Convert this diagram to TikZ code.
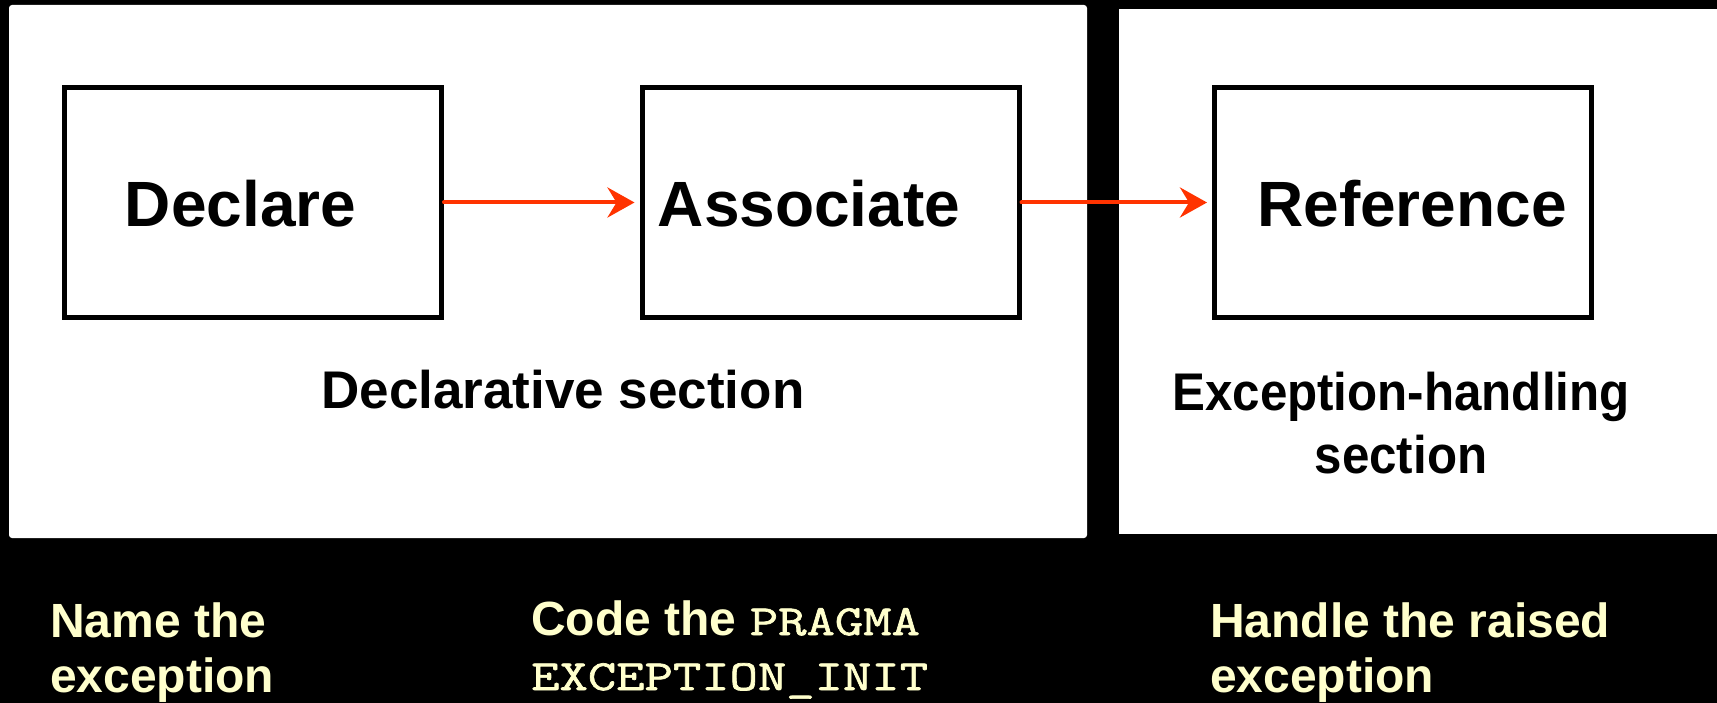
\documentclass[tikz,border=0pt]{standalone}
\usepackage{fontspec}
\setmainfont{Liberation Sans}
\newfontfamily\codefont[FakeStretch=1.28, FakeBold=1.6]{Latin Modern Mono}
\usetikzlibrary{arrows.meta}
\definecolor{flowred}{HTML}{FF3300}
\definecolor{notecream}{HTML}{FFFFCC}
\newcommand{\codeword}[1]{{\codefont\fontsize{43}{55}\selectfont #1}}

\begin{document}
\begin{tikzpicture}[x=1pt, y=-1pt,
  stepbox/.style={draw=black, line width=5pt, fill=white,
    minimum width=377pt, minimum height=230pt, inner sep=0pt},
  boxtext/.style={anchor=base, inner sep=0pt,
    font=\fontsize{64}{70}\selectfont\bfseries},
  sectiontext/.style={anchor=base, inner sep=0pt,
    font=\fontsize{53}{63}\selectfont\bfseries},
  notetext/.style={anchor=base west, inner sep=0pt, text=notecream,
    font=\fontsize{48}{55}\selectfont\bfseries},
  flow/.style={draw=flowred, line width=4pt, line cap=round,
    -{Stealth[length=27pt, width=30pt, inset=9pt]}, shorten >=5pt}
]
% page and background
\useasboundingbox (0,0) rectangle (1717,703);
\fill[black] (0,0) rectangle (1717,703);

% the two program sections
\fill[white, rounded corners=3pt] (9,5) rectangle (1087,538);
\fill[white] (1119,9) rectangle (1717,534);

% steps
\node[stepbox] (declare)   at (253,202.5)   {};
\node[stepbox] (associate) at (830.5,202.5) {};
\node[stepbox] (reference) at (1403,202.5)  {};

\node[boxtext] (declaretxt)   at (240.5,227) {Declare};
\node[boxtext] (associatetxt) at (809,227)   {Associate};
\node[boxtext] (referencetxt) at (1412,227)  {Reference};

% flow between steps
\draw[flow] (declare.east) -- (associate.west);
\draw[flow] (associate.east) -- (reference.west);

% section captions
\node[sectiontext] (declsec) at (563,409) {Declarative section};
\node[sectiontext] (excsec) at (1401,410)
  {\scalebox{0.93}[1]{\begin{tabular}[t]{@{}c@{}}Exception-handling\\section\end{tabular}}};

% notes under each step
\node[notetext] (note1) at (50,637)
  {\begin{tabular}[t]{@{}l@{}}Name the\\exception\end{tabular}};
\node[notetext] (note2) at (531,635)
  {\begin{tabular}[t]{@{}l@{}}Code the \codeword{PRAGMA}\\
   \codeword{EXCEPTION\_INIT}\end{tabular}};
\node[notetext] (note3) at (1210,637)
  {\begin{tabular}[t]{@{}l@{}}Handle the raised\\exception\end{tabular}};
\end{tikzpicture}
\end{document}
